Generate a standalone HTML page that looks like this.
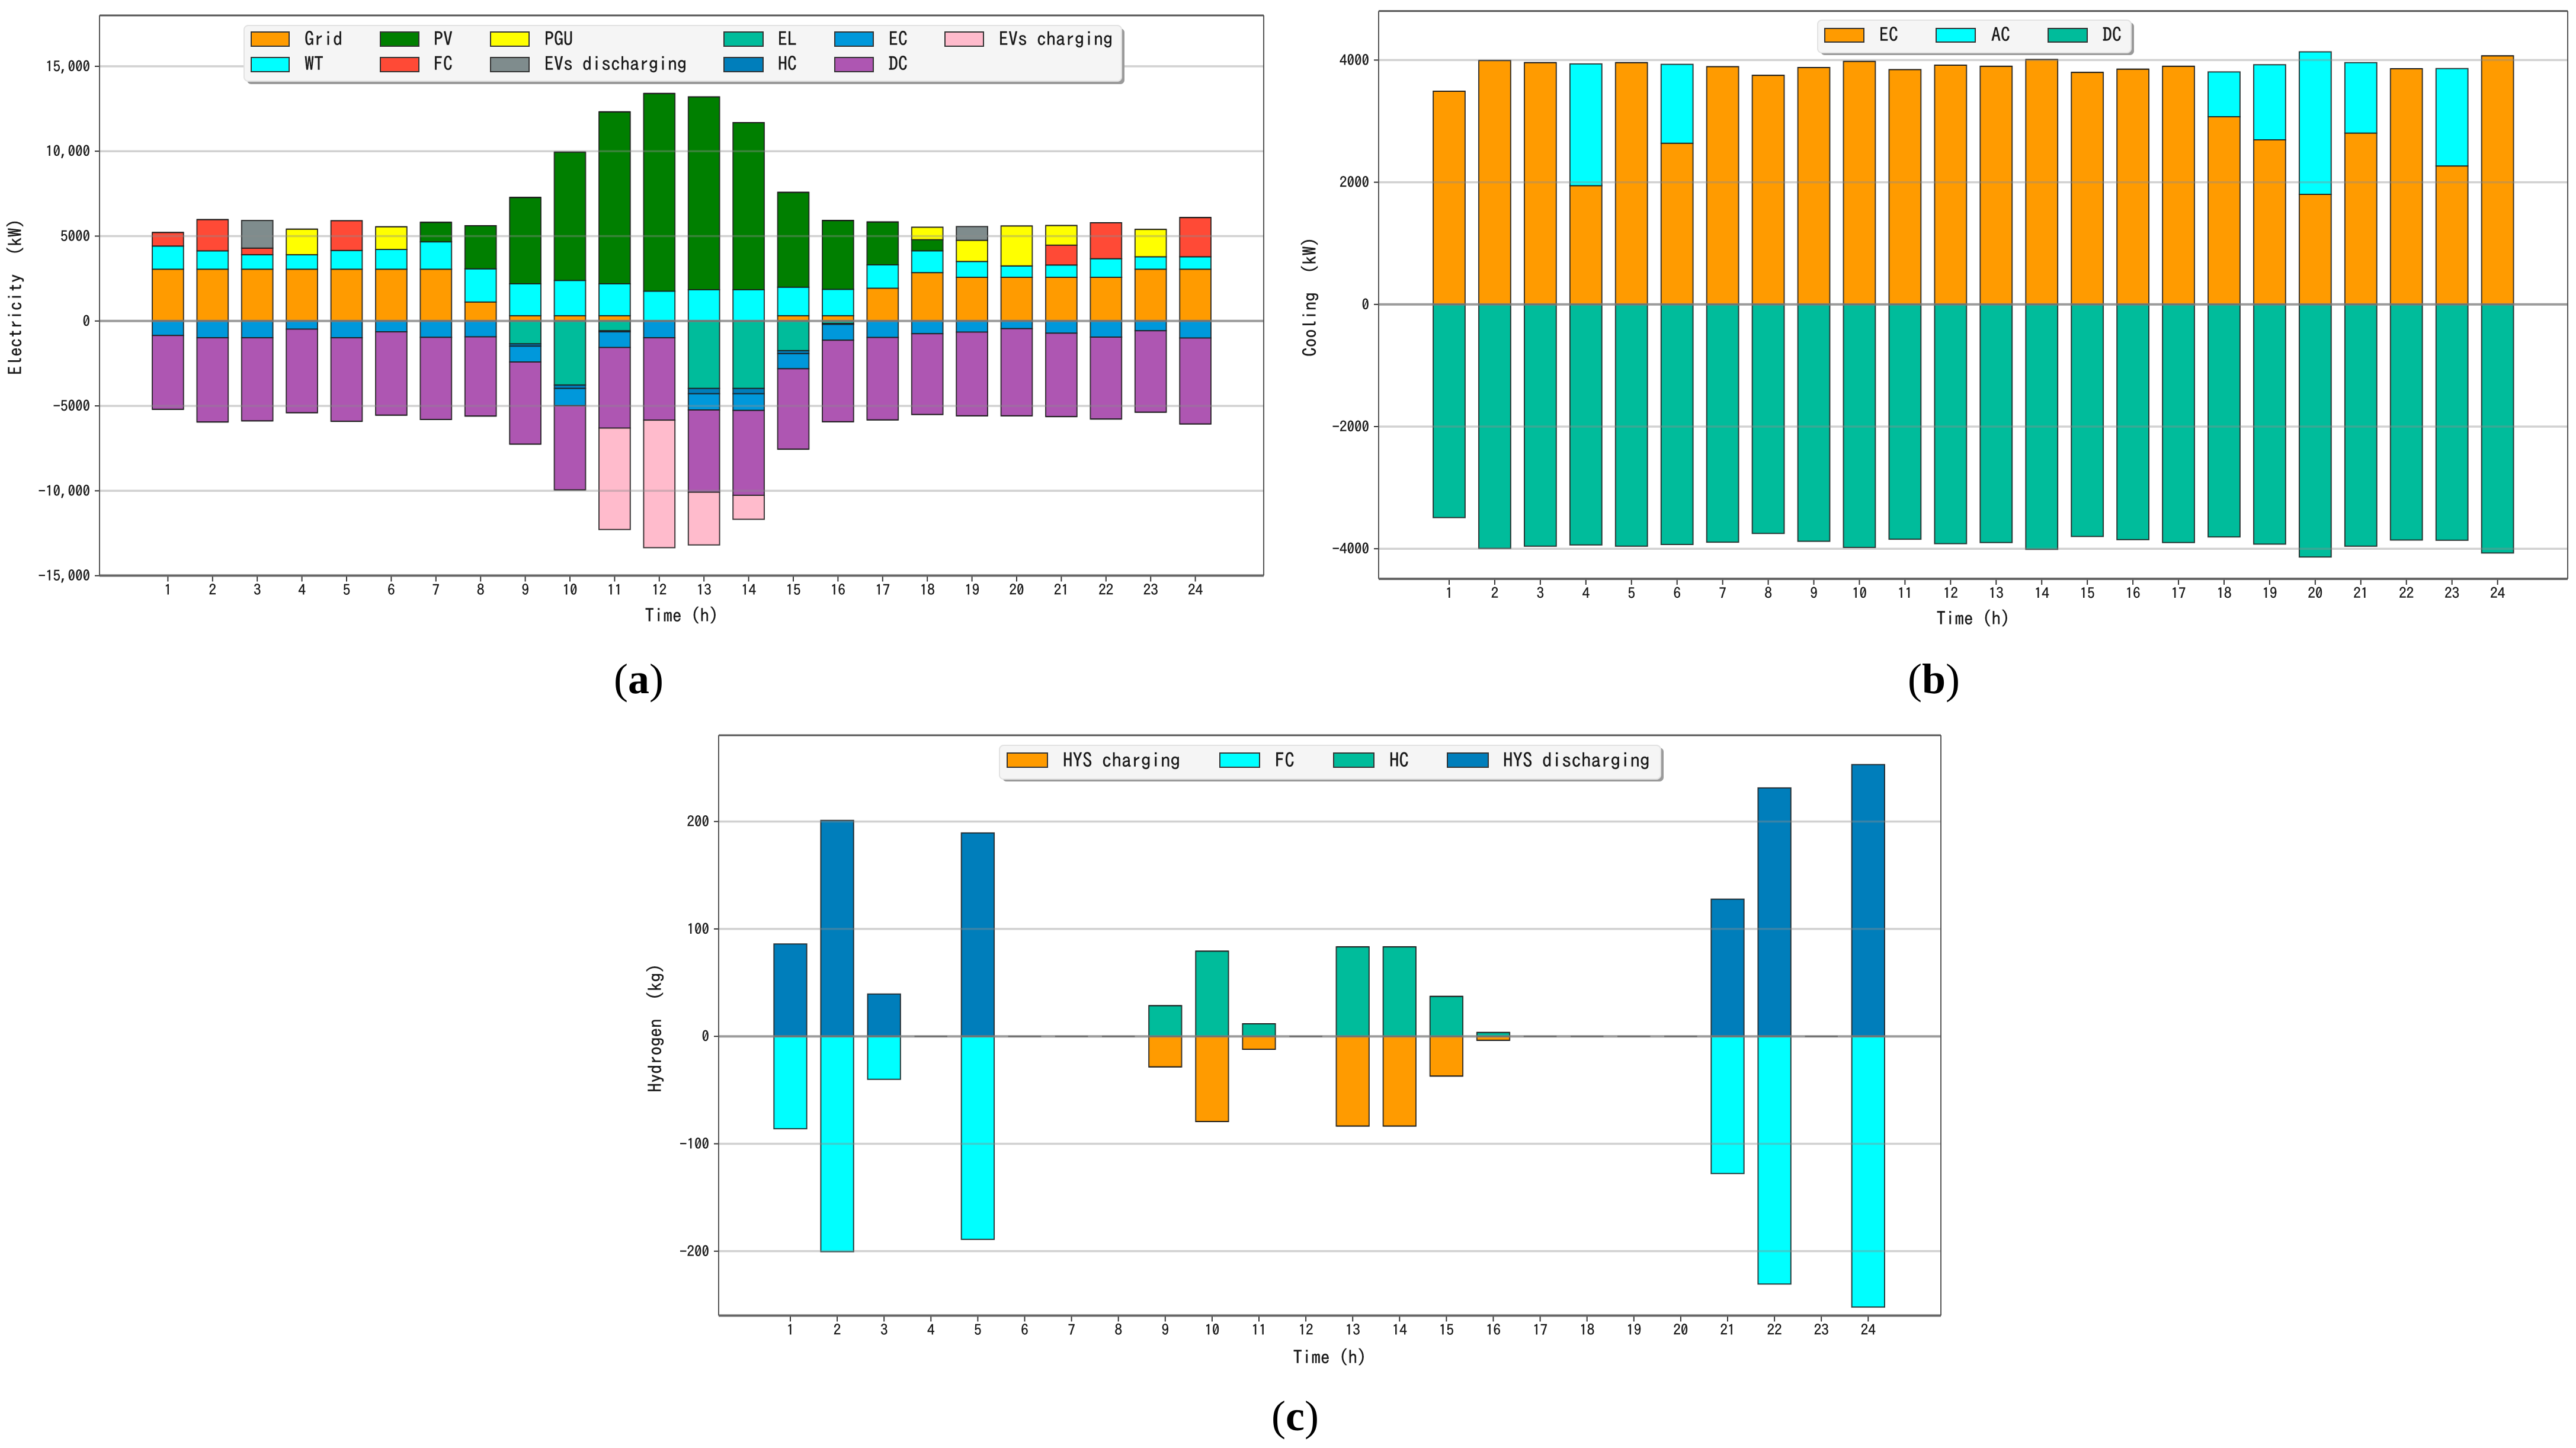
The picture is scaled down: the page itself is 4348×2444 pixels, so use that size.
<!DOCTYPE html>
<html lang="en">
<head>
<meta charset="utf-8">
<title>Electricity, cooling and hydrogen balance charts</title>
<style>
html,body{margin:0;padding:0;background:#fff;}
body{width:4348px;height:2444px;overflow:hidden;}
svg{display:block;}
text{font-family:"IPAGothic","Liberation Mono",monospace;fill:#1a1a1a;stroke:#1a1a1a;stroke-width:0.4px;white-space:pre;}
.leg{font-size:32px;}
.legc{font-size:33px;}
.cap{font-family:"Liberation Serif",serif;font-size:72px;fill:#000;stroke:none;}
</style>
</head>
<body>
<svg id="figure" xmlns="http://www.w3.org/2000/svg" width="4348" height="2444" viewBox="0 0 4348 2444">
  <rect width="4348" height="2444" fill="#fff"/>
  <g id="chart-a"></g>
  <g id="chart-b"></g>
  <g id="chart-c"></g>

  <g>
    <rect x="417" y="48" width="1481" height="94" rx="7" fill="#9a9a9a"/>
    <rect x="412" y="43" width="1481" height="94" rx="7" fill="#f5f5f5" stroke="#e2e2e2" stroke-width="2"/>
    <g><rect x="424" y="54" width="64" height="24" fill="#FF9B00" stroke="#333" stroke-width="2"/><text class="leg" x="514" y="77">Grid</text></g>
    <g><rect x="424" y="97" width="64" height="24" fill="#00FFFF" stroke="#333" stroke-width="2"/><text class="leg" x="514" y="119">WT</text></g>
    <g><rect x="642" y="54" width="65" height="24" fill="#007F00" stroke="#333" stroke-width="2"/><text class="leg" x="732" y="77">PV</text></g>
    <g><rect x="642" y="97" width="65" height="24" fill="#FF4A36" stroke="#333" stroke-width="2"/><text class="leg" x="732" y="119">FC</text></g>
    <g><rect x="828" y="54" width="65" height="24" fill="#FFFF00" stroke="#333" stroke-width="2"/><text class="leg" x="919" y="77">PGU</text></g>
    <g><rect x="828" y="97" width="65" height="24" fill="#7F8C8D" stroke="#333" stroke-width="2"/><text class="leg" x="919" y="119">EVs discharging</text></g>
    <g><rect x="1222" y="54" width="66" height="24" fill="#00BC9B" stroke="#333" stroke-width="2"/><text class="leg" x="1313" y="77">EL</text></g>
    <g><rect x="1222" y="97" width="66" height="24" fill="#007EBB" stroke="#333" stroke-width="2"/><text class="leg" x="1313" y="119">HC</text></g>
    <g><rect x="1409" y="54" width="65" height="24" fill="#0098DB" stroke="#333" stroke-width="2"/><text class="leg" x="1500" y="77">EC</text></g>
    <g><rect x="1409" y="97" width="65" height="24" fill="#AE56B2" stroke="#333" stroke-width="2"/><text class="leg" x="1500" y="119">DC</text></g>
    <g><rect x="1595" y="54" width="65" height="24" fill="#FFBBCC" stroke="#333" stroke-width="2"/><text class="leg" x="1686" y="77">EVs charging</text></g>
  </g>

  <g>
    <rect x="3073" y="38" width="529" height="55" rx="7" fill="#9a9a9a"/>
    <rect x="3068" y="34" width="529" height="55" rx="7" fill="#f5f5f5" stroke="#e2e2e2" stroke-width="2"/>
    <g><rect x="3080" y="48" width="66" height="23" fill="#FF9B00" stroke="#333" stroke-width="2"/><text class="leg" x="3172" y="70">EC</text></g>
    <g><rect x="3268" y="48" width="66" height="23" fill="#00FFFF" stroke="#333" stroke-width="2"/><text class="leg" x="3361" y="70">AC</text></g>
    <g><rect x="3457" y="48" width="66" height="23" fill="#00BC9B" stroke="#333" stroke-width="2"/><text class="leg" x="3549" y="70">DC</text></g>
  </g>

  <g>
    <rect x="1692" y="1262" width="1116" height="57" rx="7" fill="#9a9a9a"/>
    <rect x="1687" y="1258" width="1116" height="57" rx="7" fill="#f5f5f5" stroke="#e2e2e2" stroke-width="2"/>
    <g><rect x="1700" y="1271" width="68" height="24" fill="#FF9B00" stroke="#333" stroke-width="2"/><text class="legc" x="1794" y="1295">HYS charging</text></g>
    <g><rect x="2059" y="1271" width="67" height="24" fill="#00FFFF" stroke="#333" stroke-width="2"/><text class="legc" x="2152" y="1295">FC</text></g>
    <g><rect x="2251" y="1271" width="68" height="24" fill="#00BC9B" stroke="#333" stroke-width="2"/><text class="legc" x="2345" y="1295">HC</text></g>
    <g><rect x="2443" y="1271" width="69" height="24" fill="#007EBB" stroke="#333" stroke-width="2"/><text class="legc" x="2537" y="1295">HYS discharging</text></g>
  </g>

  <text class="cap" x="1078" y="1170" text-anchor="middle">(<tspan font-weight="bold">a</tspan>)</text>
  <text class="cap" x="3264" y="1170" text-anchor="middle">(<tspan font-weight="bold">b</tspan>)</text>
  <text class="cap" x="2186" y="2414" text-anchor="middle">(<tspan font-weight="bold">c</tspan>)</text>
</svg>

<script>
// Shared categories
var hours = [1,2,3,4,5,6,7,8,9,10,11,12,13,14,15,16,17,18,19,20,21,22,23,24];

// Chart (a): electricity, kW
var electricityTicks = [15000,10000,5000,0,-5000,-10000,-15000];
var electricityTickLabels = ['15,000','10,000','5000','0','-5000','-10,000','-15,000'];
var gridPower = [3050,3050,3050,3050,3050,3050,3050,1120,311,311,311,0,0,0,311,311,1928,2849,2575,2575,2575,2575,3050,3050];
var wtPower = [1366,1080,856,856,1105,1167,1615,1953,1879,2077,1879,1754,1841,1841,1679,1555,1381,1281,933,672,722,1095,732,732];
var pvPower = [0,0,0,0,0,0,1145,2537,5087,7562,10126,11644,11358,9840,5586,4055,2525,659,0,0,0,0,0,0];
var fcPower = [796,1841,386,0,1754,0,0,0,0,0,0,0,0,0,0,0,0,0,0,0,1169,2115,0,2314];
var pguPower = [0,0,0,1505,0,1331,0,0,0,0,0,0,0,0,0,0,0,734,1244,2351,1157,0,1617,0];
var evDischarge = [0,0,1629,0,0,0,0,0,0,0,0,0,0,0,0,0,0,0,809,0,0,0,0,0];
var elPower = [0,0,0,0,0,0,0,0,1347,3773,573,0,3973,3973,1747,147,0,0,0,0,0,0,0,0];
var hcPower = [0,0,0,0,0,0,0,0,133,200,67,0,307,307,173,53,0,0,0,0,0,0,0,0];
var ecPower = [853,987,987,480,987,640,960,933,933,1014,920,987,960,987,893,933,973,747,653,453,720,947,573,1000];
var dcPower = [4347,4960,4893,4920,4920,4907,4840,4667,4840,4960,4747,4853,4840,5000,4734,4800,4854,4760,4934,5134,4907,4826,4800,5067];
var evCharge = [0,0,0,0,0,0,0,0,0,0,5973,7507,3107,1413,0,0,0,0,0,0,0,0,0,0];

// Chart (b): cooling, kW
var coolingTicks = [4000,2000,0,-2000,-4000];
var coolingTickLabels = ['4000','2000','0','-2000','-4000'];
var ecCooling = [3490,3993,3958,1944,3958,2639,3892,3750,3878,3979,3844,3917,3899,4010,3799,3851,3899,3073,2694,1802,2805,3858,2267,4069];
var acCooling = [0,0,0,1993,0,1291,0,0,0,0,0,0,0,0,0,0,0,733,1230,2333,1153,0,1594,0];
var dcCooling = [3490,3993,3958,3937,3958,3930,3892,3750,3878,3979,3844,3917,3899,4010,3799,3851,3899,3806,3924,4135,3958,3858,3861,4069];

// Chart (c): hydrogen, kg
var hydrogenTicks = [200,100,0,-100,-200];
var hydrogenTickLabels = ['200','100','0','-100','-200'];
var hysCharging = [0,0,0,0,0,0,0,0,28.4,79.3,12,0,83.5,83.5,37,3.7,0,0,0,0,0,0,0,0];
var fcHydrogen = [86,200.5,40,0,189,0,0,0,0,0,0,0,0,0,0,0,0,0,0,0,127.7,230.6,0,252];
var hcHydrogen = [0,0,0,0,0,0,0,0,28.6,79.3,11.7,0,83.3,83.3,37.2,3.6,0,0,0,0,0,0,0,0];
var hysDischarging = [86,201,39.4,0,189.4,0,0,0,0,0,0,0,0,0,0,0,0,0,0,0,127.7,231.3,0,253];

var NS = 'http://www.w3.org/2000/svg';

function mk(parent, tag, attrs, txt) {
  var el = document.createElementNS(NS, tag);
  for (var k in attrs) { el.setAttribute(k, attrs[k]); }
  if (txt !== undefined) { el.textContent = txt; }
  parent.appendChild(el);
  return el;
}

function drawChart(host, box, xAxis, yAxis, ticks, tickLabels, posSeries, negSeries, yTitle, xTitleBase, yTitleX, yTitleY) {
  function xScale(i) { return xAxis.first + xAxis.step * i; }
  function yScale(v) { return yAxis.zero - v * yAxis.perUnit; }
  var halfBar = xAxis.step * 0.35;

  function drawStack(seriesList, sign) {
    var bars = mk(host, 'g', {});
    
    
    hours.forEach(function (h, i) {
      var base = 0;
      seriesList.forEach(function (s) {
        var top = base + s.values[i];
        var y0 = yScale(sign * base);
        var y1 = yScale(sign * top);
        var x0 = xScale(i) - halfBar;
        var x1 = xScale(i) + halfBar;
        var d = 'M' + x0 + ' ' + y0 + 'H' + x1 + 'V' + y1 + 'H' + x0 + 'Z';
        var el = mk(bars, 'path', { d: d, fill: s.color, stroke: '#1c1c1c', 'stroke-width': 2, 'stroke-opacity': 0.85 });
        
        
        base = top;
      });
    });
  }
  drawStack(posSeries, 1);
  drawStack(negSeries, -1);

  ticks.forEach(function (t, i) {
    var y = yScale(t);
    var gridLine = mk(host, 'line', {
      x1: box.left, x2: box.right, y1: y, y2: y,
      stroke: t === 0 ? 'rgba(130,130,130,0.8)' : 'rgba(140,140,140,0.4)',
      'stroke-width': t === 0 ? 4 : 3.5
    });
    
    
    var tick = mk(host, 'line', { x1: box.left - 8, x2: box.left, y1: y, y2: y, stroke: '#333', 'stroke-width': 2 });
    
    
    var label = mk(host, 'text', { x: box.left - 16, y: y + 9, 'text-anchor': 'end', 'font-size': 25 }, tickLabels[i]);
    
    
  });

  hours.forEach(function (h, i) {
    var x = xScale(i);
    var tick = mk(host, 'line', { x1: x, x2: x, y1: box.bottom, y2: box.bottom + 10, stroke: '#333', 'stroke-width': 2 });
    
    
    var label = mk(host, 'text', { x: x, y: box.bottom + 33, 'text-anchor': 'middle', 'font-size': 25 }, String(h));
    
    
  });

  var spines = mk(host, 'g', { fill: 'none' });
  
  
  mk(spines, 'line', { x1: box.left, x2: box.right, y1: box.top, y2: box.top, stroke: '#555', 'stroke-width': 3 });
  mk(spines, 'line', { x1: box.left, x2: box.right, y1: box.bottom, y2: box.bottom, stroke: '#666', 'stroke-width': 4 });
  mk(spines, 'line', { x1: box.left, x2: box.left, y1: box.top, y2: box.bottom, stroke: '#555', 'stroke-width': 2 });
  mk(spines, 'line', { x1: box.right, x2: box.right, y1: box.top, y2: box.bottom, stroke: '#555', 'stroke-width': 2 });

  var xTitleEl = mk(host, 'text', { x: (box.left + box.right) / 2, y: xTitleBase, 'text-anchor': 'middle', 'font-size': 31 }, 'Time (h)');
  
  
  var yTitleEl = mk(host, 'text', {
    x: 0, y: 0, 'text-anchor': 'middle', 'font-size': 31,
    transform: 'translate(' + yTitleX + ' ' + yTitleY + ') rotate(-90)'
  }, yTitle);
  
  
}

drawChart(document.getElementById('chart-a'),
  { left: 168, right: 2133, top: 26, bottom: 971.5 },
  { first: 283.4, step: 75.4 },
  { zero: 541.8, perUnit: 0.02866 },
  electricityTicks, electricityTickLabels,
  [
    { key: 'grid', color: '#FF9B00', values: gridPower },
    { key: 'wt', color: '#00FFFF', values: wtPower },
    { key: 'pv', color: '#007F00', values: pvPower },
    { key: 'fc', color: '#FF4A36', values: fcPower },
    { key: 'pgu', color: '#FFFF00', values: pguPower },
    { key: 'evs-discharging', color: '#7F8C8D', values: evDischarge }
  ],
  [
    { key: 'el', color: '#00BC9B', values: elPower },
    { key: 'hc', color: '#007EBB', values: hcPower },
    { key: 'ec', color: '#0098DB', values: ecPower },
    { key: 'dc', color: '#AE56B2', values: dcPower },
    { key: 'evs-charging', color: '#FFBBCC', values: evCharge }
  ],
  'Electricity  (kW)', 1050, 37, 501);

drawChart(document.getElementById('chart-b'),
  { left: 2327, right: 4334, top: 18.6, bottom: 977 },
  { first: 2446, step: 76.94 },
  { zero: 513.8, perUnit: 0.1031 },
  coolingTicks, coolingTickLabels,
  [
    { key: 'ec', color: '#FF9B00', values: ecCooling },
    { key: 'ac', color: '#00FFFF', values: acCooling }
  ],
  [
    { key: 'dc', color: '#00BC9B', values: dcCooling }
  ],
  'Cooling  (kW)', 1055, 2222, 501);

drawChart(document.getElementById('chart-c'),
  { left: 1213, right: 3276, top: 1241, bottom: 2220.5 },
  { first: 1334, step: 79.1 },
  { zero: 1749.2, perUnit: 1.813 },
  hydrogenTicks, hydrogenTickLabels,
  [
    { key: 'hc', color: '#00BC9B', values: hcHydrogen },
    { key: 'hys-discharging', color: '#007EBB', values: hysDischarging }
  ],
  [
    { key: 'hys-charging', color: '#FF9B00', values: hysCharging },
    { key: 'fc', color: '#00FFFF', values: fcHydrogen }
  ],
  'Hydrogen  (kg)', 2302, 1117, 1735);
</script>
</body>
</html>
